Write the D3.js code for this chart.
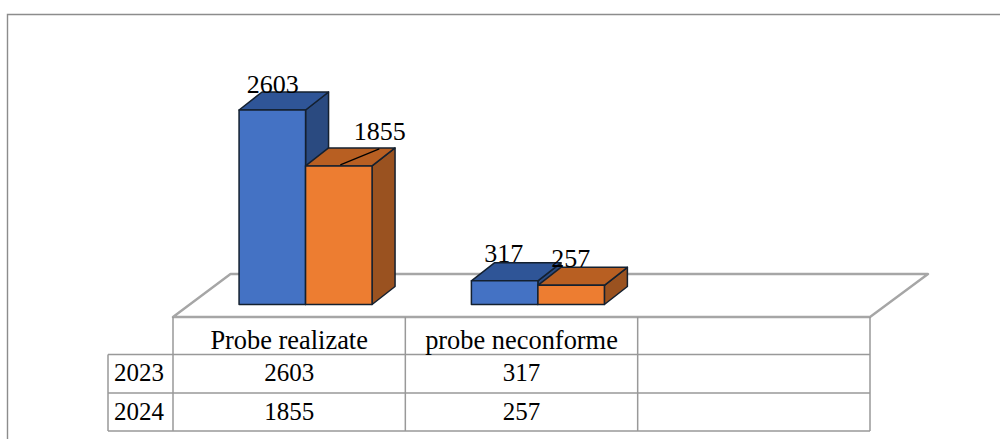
<!DOCTYPE html>
<html><head><meta charset="utf-8">
<style>html,body{margin:0;padding:0;background:#fff;overflow:hidden}svg{display:block}text{font-family:"Liberation Serif","Times New Roman",serif;fill:#000}</style>
<script src="https://cdnjs.cloudflare.com/ajax/libs/d3/7.8.5/d3.min.js"></script>
</head><body><svg id="c" width="1000" height="439"></svg>
<script>
const categories = ["Probe realizate", "probe neconforme", ""];
const seriesNames = ["2023", "2024"];
const values2023 = [2603, 317];
const values2024 = [1855, 257];
const seriesValues = [values2023, values2024];
const frontColors = ["#4472c4", "#ed7d31"];
const topColors = ["#2f5597", "#b85f22"];
const sideColors = ["#2a4a80", "#9a5220"];

const svg = d3.select("#c");
// frame: only top and left edges are visible in the picture
svg.append("path").attr("d", "M7.5,439V14.5H1000").attr("fill", "none")
  .attr("stroke", "#8c8c8c").attr("stroke-width", 1.4);

const x = d3.scaleBand().domain(d3.range(categories.length)).range([173, 870]);
const xs = d3.scaleBand().domain(d3.range(seriesNames.length)).range([0, x.bandwidth()])
  .paddingInner(0).paddingOuter(0.747).align(0.665);
const y = d3.scaleLinear().domain([0, 2603]).range([304.5, 110]);
const floorY = 317, dx = 23, dy = -18, backY = 274;

// floor
const fd = [[x.range()[0], floorY], [x.range()[1], floorY], [928, backY], [230.5, backY]];
svg.append("path").attr("d", d3.line()(fd) + "Z").attr("fill", "#fff")
  .attr("stroke", "#a6a6a6").attr("stroke-width", 2.4).attr("stroke-linejoin", "round");

// bars
seriesNames.forEach((s, si) => {
  seriesValues[si].forEach((v, ci) => {
    const x0 = x(ci) + xs(si), x1 = x0 + xs.bandwidth();
    const yt = y(v), yb = y(0);
    const g = svg.append("g").attr("stroke", "#14202f").attr("stroke-width", 1.5).attr("stroke-linejoin", "round");
    g.append("path").attr("fill", sideColors[si])
      .attr("d", d3.line()([[x1, yb], [x1 + dx, yb + dy], [x1 + dx, yt + dy], [x1, yt]]) + "Z");
    g.append("path").attr("fill", topColors[si])
      .attr("d", d3.line()([[x0, yt], [x0 + dx, yt + dy], [x1 + dx, yt + dy], [x1, yt]]) + "Z");
    g.append("rect").attr("x", x0).attr("y", yt).attr("width", x1 - x0).attr("height", yb - yt).attr("fill", frontColors[si]);
  });
});

// leader line
const cx10 = x(0) + xs(1) + xs.bandwidth() / 2;
svg.append("line")
  .attr("x1", cx10 + 1.5).attr("y1", y(values2024[0]) - 1)
  .attr("x2", cx10 + 40.5).attr("y2", y(values2024[0]) - 17)
  .attr("stroke", "#000").attr("stroke-width", 1.2);

// labels
const labelDx = [[0.5, -1], [41, -0.5]];
const labelDy = [[-17, -19], [-26, -18]];
seriesNames.forEach((s, si) => {
  seriesValues[si].forEach((v, ci) => {
    const cx = x(ci) + xs(si) + xs.bandwidth() / 2;
    svg.append("text").attr("x", cx + labelDx[si][ci]).attr("y", y(v) + labelDy[si][ci])
      .attr("text-anchor", "middle").attr("font-size", 26).text(v);
  });
});

// data table
const rowY = [317, 354.5, 393, 431];
const tg = svg.append("g").attr("stroke", "#999").attr("stroke-width", 1.5).attr("fill", "none");
const colEdges = categories.map((_, i) => x(i)).concat(x.range()[1]);
colEdges.forEach(cx => tg.append("line").attr("x1", cx).attr("x2", cx).attr("y1", rowY[0]).attr("y2", rowY[3]));
rowY.slice(1).forEach(ry => tg.append("line").attr("x1", 108).attr("x2", x.range()[1]).attr("y1", ry).attr("y2", ry));
tg.append("line").attr("x1", 108).attr("x2", 108).attr("y1", rowY[1]).attr("y2", rowY[3]);

categories.forEach((c, i) => {
  svg.append("text").attr("x", x(i) + x.bandwidth() / 2).attr("y", 349).attr("text-anchor", "middle").attr("font-size", 26.4).text(c);
});
seriesNames.forEach((s, si) => {
  svg.append("text").attr("x", 139).attr("y", rowY[si + 1] + 26.5).attr("text-anchor", "middle").attr("font-size", 25).text(s);
  seriesValues[si].forEach((v, ci) => {
    svg.append("text").attr("x", x(ci) + x.bandwidth() / 2).attr("y", rowY[si + 1] + 26.5).attr("text-anchor", "middle").attr("font-size", 25).text(v);
  });
});
</script></body></html>
